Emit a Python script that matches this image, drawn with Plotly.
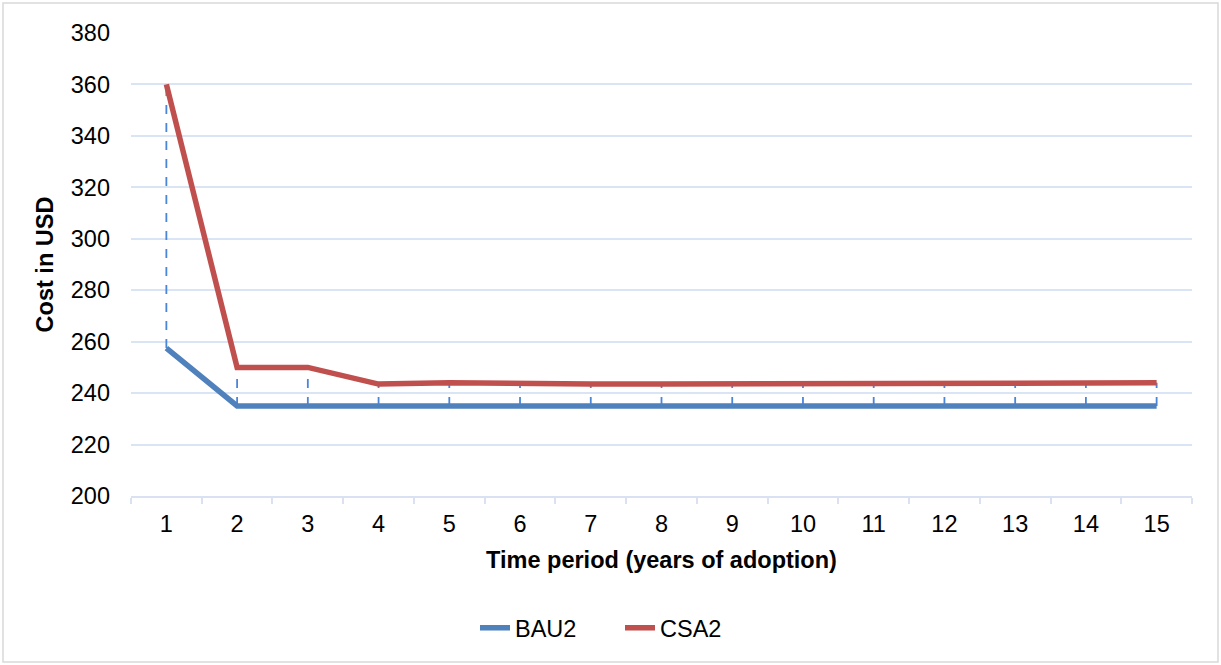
import plotly.graph_objects as go

periods = [str(i) for i in range(1, 16)]
bau2 = [257.5, 235, 235, 235, 235, 235, 235, 235, 235, 235, 235, 235, 235, 235, 235]
csa2 = [360, 250, 250, 243.5, 244, 243.5, 243.5, 243.5, 243.5, 244, 243.5, 243.5, 243.5, 243.5, 244]
y_ticks = list(range(200, 381, 20))

W, H = 1221, 665
ML, MR, MT, MB = 131, 29, 33, 169
PW, PH = W - ML - MR, H - MT - MB

# high-low drop lines built from the data
dx, dy = [], []
for p, b, c in zip(periods, bau2, csa2):
    dx += [p, p, None]
    dy += [b, c, None]

fig = go.Figure()
fig.add_trace(go.Scatter(x=dx, y=dy, mode="lines", showlegend=False, hoverinfo="skip",
                         line=dict(color="#4A86D8", width=1.8, dash="dash")))
fig.add_trace(go.Scatter(x=periods, y=bau2, mode="lines", name="BAU2",
                         line=dict(color="#4F81BD", width=5.5)))
fig.add_trace(go.Scatter(x=periods, y=csa2, mode="lines", name="CSA2",
                         line=dict(color="#C0504D", width=5.5)))

font = "Liberation Sans, Arial, sans-serif"
FS = 23.5
fig.update_layout(
    width=W, height=H,
    margin=dict(l=ML, r=MR, t=MT, b=MB),
    paper_bgcolor="white", plot_bgcolor="white",
    font=dict(family=font, size=FS, color="black"),
    showlegend=True,
    legend=dict(orientation="h", x=(620 - ML) / PW, xanchor="center",
                y=(MT + PH - 628) / PH, yanchor="middle",
                font=dict(size=FS), traceorder="normal",
                entrywidth=100, entrywidthmode="pixels"),
    xaxis=dict(type="category", range=[-0.5, 14.5], tickson="boundaries",
               ticks="outside", ticklen=6, tickcolor="#D9E1F2", tickwidth=1.5,
               showline=True, linecolor="#D9E1F2", linewidth=1.5,
               showgrid=False, tickfont=dict(size=FS), ticklabelstandoff=6,
               title=dict(text="<b>Time period (years of adoption)</b>",
                          font=dict(size=FS), standoff=16)),
    yaxis=dict(range=[200, 380], tickvals=y_ticks, showgrid=True,
               gridcolor="#D9E4F5", gridwidth=1.5, zeroline=False,
               showline=False, ticks="", tickfont=dict(size=FS),
               ticklabelstandoff=20,
               title=dict(text="<b>Cost in USD</b>", font=dict(size=FS), standoff=10)),
    shapes=[dict(type="rect", xref="paper", yref="paper",
                 x0=(3 - ML) / PW, x1=(1218 - ML) / PW,
                 y0=(MT + PH - 662) / PH, y1=(MT + PH - 3) / PH,
                 line=dict(color="#D9D9D9", width=1.5), fillcolor="rgba(0,0,0,0)",
                 layer="below")],
)

fig.write_html("out.html", config={"displayModeBar": False},
               post_script="document.body.style.margin='0';document.body.style.overflow='hidden';")
